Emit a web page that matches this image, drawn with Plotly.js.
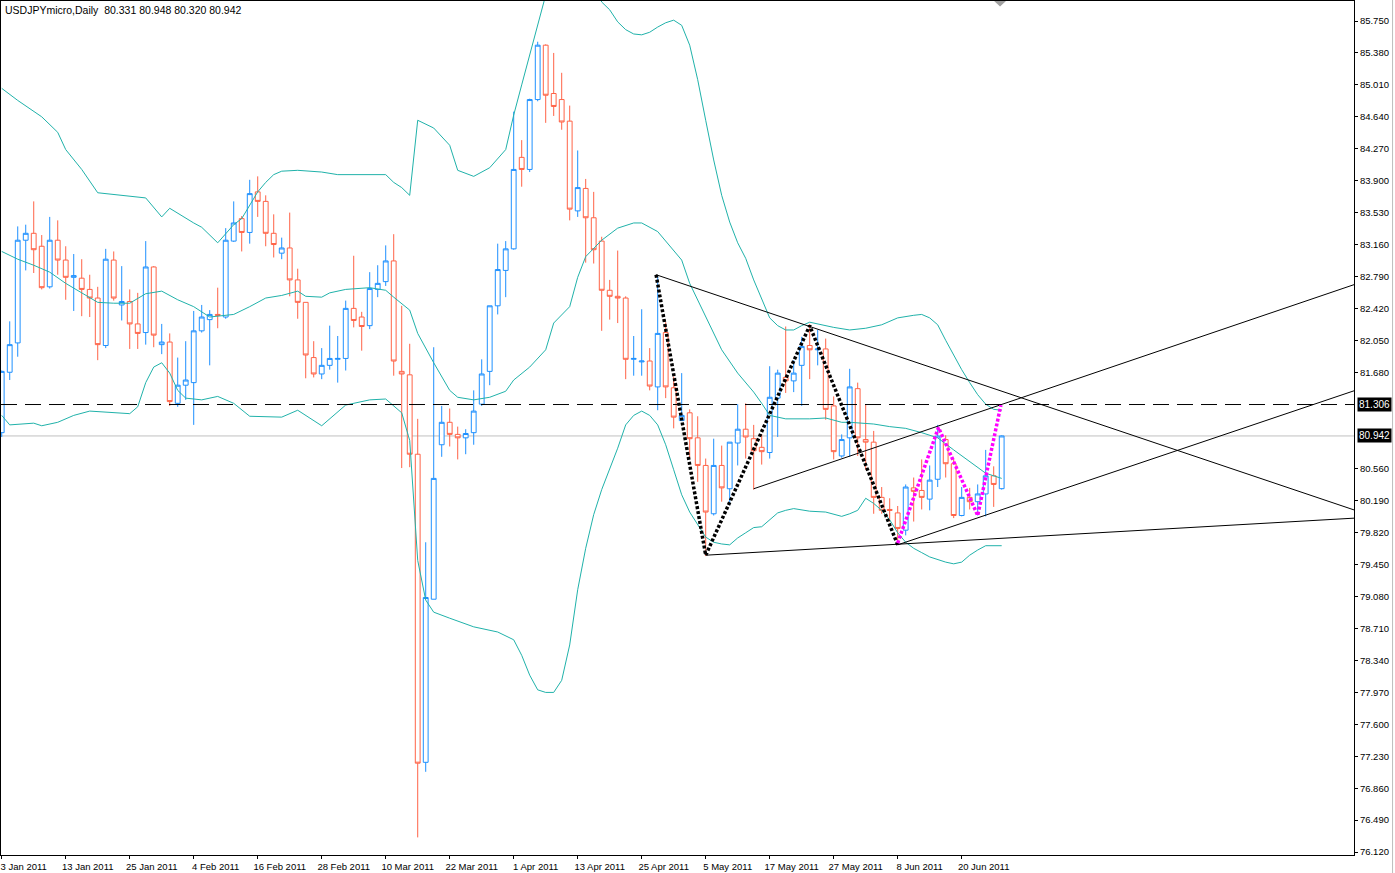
<!DOCTYPE html>
<html><head><meta charset="utf-8">
<script src="https://cdn.plot.ly/plotly-3.0.1.min.js"></script>
<style>html,body{margin:0;padding:0;background:#fff;overflow:hidden}#chart{width:1395px;height:873px}</style>
</head><body><div id="chart"></div>
<script>
// ---- data (daily USDJPY bars, bar index 0 = 3 Jan 2011) ----
const symbolName = 'USDJPYmicro';
const periodName = 'Daily';
const openP  = [80.98,81.68,82.02,83.21,83.29,83.14,82.67,83.21,82.98,82.78,82.77,82.64,82.54,81.99,82.98,82.46,82.50,82.24,82.14,82.90,
82.00,82.03,81.32,81.53,81.56,82.16,82.29,82.35,82.32,83.20,83.46,83.30,83.77,83.66,83.29,83.06,83.12,82.75,82.49,81.85,
81.66,81.76,81.83,81.84,82.42,82.32,82.22,82.64,82.73,82.97,81.69,81.65,80.73,77.16,79.05,80.84,81.10,80.96,80.92,80.98,
81.31,81.69,82.45,82.86,83.11,84.17,84.03,84.84,85.47,84.91,84.84,84.59,83.55,83.81,83.47,83.20,82.63,82.56,82.54,81.83,
81.80,81.81,81.51,82.14,81.50,81.12,81.21,80.92,80.60,80.04,80.60,80.33,80.86,81.02,80.91,80.81,80.75,81.38,81.62,81.58,
81.76,81.99,81.94,81.95,81.29,80.71,80.92,81.49,80.90,80.87,80.23,80.09,80.05,79.85,80.34,80.31,80.21,80.44,80.90,80.62,
80.02,80.23,80.18,80.27,80.48,80.331];
const highP  = [81.70,82.27,83.37,83.39,83.66,83.27,83.48,83.44,83.14,83.05,82.99,82.81,82.67,83.11,83.08,82.91,82.64,82.60,83.20,82.91,
82.24,82.13,81.85,82.04,82.39,82.46,82.40,82.66,83.35,83.66,83.49,83.91,83.95,83.73,83.51,83.24,83.53,82.88,82.49,82.04,
81.96,82.22,82.10,82.51,83.03,82.38,82.84,82.92,83.15,83.28,82.45,82.01,81.14,79.71,81.97,81.29,81.26,81.05,81.02,81.47,
81.83,82.45,83.17,83.20,84.70,84.37,84.85,85.51,85.48,85.38,85.15,84.77,84.25,83.92,83.77,83.25,82.75,83.09,82.56,82.10,
82.41,81.96,82.79,82.26,81.63,81.67,81.25,81.17,80.68,80.91,80.83,80.87,81.31,81.32,81.07,80.96,81.75,81.71,82.21,81.82,
82.09,82.24,82.17,82.07,81.40,80.96,81.72,81.56,81.31,81.00,80.35,80.22,80.13,80.38,80.46,80.67,80.60,81.07,80.95,80.68,
80.35,80.34,80.38,80.78,80.59,80.948];
const lowP   = [80.93,81.59,81.86,82.86,82.83,82.64,82.65,82.81,82.52,82.39,82.33,82.32,81.82,81.96,82.51,82.28,81.95,81.95,82.00,81.97,
81.89,81.29,81.28,81.36,81.07,82.14,81.76,82.19,82.30,83.19,83.08,83.17,83.48,83.14,83.01,82.99,82.56,82.30,81.61,81.62,
81.60,81.71,81.56,81.70,82.20,81.93,82.18,82.55,82.68,81.64,80.57,80.58,76.29,77.05,79.05,80.70,80.82,80.67,80.73,80.84,
81.29,81.53,82.35,82.55,83.10,83.83,84.00,84.82,84.57,84.65,84.49,83.44,83.48,82.95,82.94,82.16,82.29,82.25,81.60,81.64,
81.64,81.47,81.24,81.38,81.03,81.12,80.68,80.41,79.55,80.02,80.18,80.14,80.60,80.68,80.32,80.61,80.68,80.93,81.44,81.45,
81.29,81.60,81.76,81.13,80.67,80.69,80.70,80.71,80.55,80.04,80.04,79.95,79.68,79.79,79.95,80.09,80.08,80.35,80.46,79.99,
80.01,80.09,80.02,80.01,80.12,80.320];
const closeP = [81.69,82.00,83.21,83.29,83.10,82.66,83.21,82.98,82.78,82.80,82.64,82.54,82.00,82.99,82.54,82.50,82.24,82.13,82.90,82.11,
82.03,81.34,81.53,81.59,82.16,82.32,82.35,82.34,83.21,83.41,83.30,83.75,83.66,83.29,83.16,83.12,82.75,82.49,81.88,81.66,
81.76,81.84,81.84,82.42,82.28,82.21,82.65,82.71,82.97,81.81,81.66,80.73,77.15,79.07,80.45,81.10,80.96,80.92,80.97,81.23,
81.66,82.45,82.87,83.11,84.03,84.03,84.84,85.47,84.89,84.76,84.58,83.57,83.82,83.47,83.10,82.63,82.56,82.54,81.83,81.84,
81.81,81.52,82.13,81.51,81.16,81.18,80.91,80.60,80.06,80.60,80.34,80.87,81.02,80.93,80.77,80.76,81.39,81.67,81.58,81.67,
81.98,81.94,81.95,81.25,80.76,80.90,81.51,80.92,80.87,80.23,80.08,80.08,79.87,80.35,80.30,80.23,80.43,80.94,80.62,80.02,
80.23,80.18,80.27,80.48,80.38,80.942];

// Bollinger bands (bar index, price)
const upperIdx = [0,2,5,7,8,10,12,18,20,21,24,25,27,29,30,31,32,33,34,35,37,40,42,48,49,50,51,52,54,56,57,59,61,63,64,65,66,67,68,69,70,71,72,73,74,75,76,77,78,79,80,81,82,83,84,85,86,87,88,89,90,91,92,93,94,95,96,97,98,99,100,101,102,103,104,106,108,110,112,114,115,116,117,118,119,120,121,122,123,124,125];
const upperVal = [84.97,84.83,84.64,84.46,84.26,84.03,83.76,83.70,83.48,83.58,83.41,83.36,83.18,83.39,83.46,83.62,83.77,83.88,83.97,84.01,84.02,84.00,83.97,83.97,83.88,83.82,83.73,84.60,84.51,84.31,84.02,83.95,84.05,84.26,84.66,85.01,85.36,85.70,86.05,86.30,86.50,86.60,86.60,86.45,86.20,85.97,85.88,85.74,85.65,85.60,85.59,85.62,85.68,85.73,85.76,85.70,85.47,85.07,84.60,84.14,83.73,83.42,83.18,83.00,82.75,82.52,82.31,82.22,82.17,82.17,82.22,82.26,82.24,82.22,82.20,82.17,82.19,82.23,82.31,82.34,82.35,82.31,82.23,82.05,81.88,81.71,81.56,81.42,81.31,81.25,81.24];
const midIdx = [0,2,4,6,8,10,12,14,16,18,20,22,24,26,29,31,33,35,37,38,40,41,43,46,48,49,51,52,54,56,57,59,61,63,64,66,68,69,71,72,73,75,77,79,80,82,85,86,88,90,92,94,95,96,98,101,103,105,106,109,111,113,115,117,119,121,123,125];
const midVal = [83.08,82.99,82.92,82.84,82.71,82.60,82.49,82.48,82.48,82.59,82.62,82.52,82.44,82.32,82.35,82.44,82.54,82.57,82.62,82.56,82.55,82.60,82.64,82.66,82.63,82.55,82.40,82.13,81.79,81.47,81.39,81.36,81.39,81.46,81.59,81.74,81.94,82.25,82.44,82.78,83.02,83.21,83.35,83.41,83.41,83.31,82.98,82.71,82.32,81.94,81.67,81.45,81.32,81.18,81.14,81.14,81.15,81.10,81.10,81.08,81.05,81.03,80.98,80.92,80.78,80.64,80.51,80.45];
const lowIdx = [0,1,4,5,7,9,11,13,16,17,18,19,20,21,22,23,25,27,29,31,35,37,40,43,46,48,50,51,52,53,54,56,59,62,64,65,66,67,68,69,70,71,72,73,74,75,76,77,78,79,80,81,82,83,84,85,86,87,88,89,90,91,92,93,94,95,96,97,98,99,101,103,105,106,107,108,109,110,111,112,113,114,115,116,118,119,120,121,122,123,125];
const lowVal = [81.18,81.07,81.09,81.06,81.10,81.18,81.23,81.22,81.20,81.28,81.56,81.74,81.79,81.67,81.47,81.38,81.36,81.40,81.32,81.17,81.16,81.24,81.06,81.30,81.36,81.37,81.21,80.89,79.50,79.04,78.90,78.83,78.73,78.67,78.58,78.40,78.17,78.00,77.97,77.97,78.11,78.52,79.16,79.64,80.03,80.32,80.55,80.80,81.07,81.18,81.23,81.18,81.07,80.84,80.55,80.26,80.06,79.91,79.77,79.71,79.69,79.68,79.76,79.82,79.88,79.89,79.97,80.05,80.08,80.10,80.07,80.06,80.01,80.04,80.08,80.22,80.16,80.08,79.97,79.82,79.71,79.64,79.59,79.54,79.48,79.46,79.48,79.56,79.62,79.67,79.67];

// drawn objects
const hLineLevel = 81.306;
const bidLevel = 80.942;
const trendA = {x:[81.8,169.2], y:[82.81,80.08]};
const trendB = {x:[88.0,169.2], y:[79.56,79.99]};
const trendC = {x:[94.0,169.2], y:[80.33,82.70]};
const trendD = {x:[112.0,169.2], y:[79.68,81.47]};
const zigBlack = {x:[81.8,88.0,101.0,112.0], y:[82.81,79.56,82.22,79.68]};
const zigPink  = {x:[112.0,117.1,122.0,124.9], y:[79.70,81.04,80.02,81.30]};

// axes
const xTickIdx = [0,8,16,24,32,40,48,56,64,72,80,88,96,104,112,120];
const xTickText = ['3 Jan 2011','13 Jan 2011','25 Jan 2011','4 Feb 2011','16 Feb 2011','28 Feb 2011','10 Mar 2011','22 Mar 2011','1 Apr 2011','13 Apr 2011','25 Apr 2011','5 May 2011','17 May 2011','27 May 2011','8 Jun 2011','20 Jun 2011'];
const yTickVals = [85.75,85.38,85.01,84.64,84.27,83.90,83.53,83.16,82.79,82.42,82.05,81.68,80.56,80.19,79.82,79.45,79.08,78.71,78.34,77.97,77.60,77.23,76.86,76.49,76.12];

// ---- chart ----
const barX = openP.map((_, i) => i);
const n = openP.length - 1;
const FONT = 'Liberation Sans, Arial, sans-serif';
const bandColor = '#20B2AA';

const traces = [
  {type:'candlestick', x:barX, open:openP, high:highP, low:lowP, close:closeP,
   increasing:{line:{color:'#1E90FF', width:1}, fillcolor:'#FFFFFF'},
   decreasing:{line:{color:'#FF6347', width:1}, fillcolor:'#FFFFFF'},
   whiskerwidth:0, hoverinfo:'skip', showlegend:false},
  {type:'scatter', mode:'lines', x:upperIdx, y:upperVal, line:{color:bandColor, width:1}, hoverinfo:'skip', showlegend:false},
  {type:'scatter', mode:'lines', x:midIdx, y:midVal, line:{color:bandColor, width:1}, hoverinfo:'skip', showlegend:false},
  {type:'scatter', mode:'lines', x:lowIdx, y:lowVal, line:{color:bandColor, width:1}, hoverinfo:'skip', showlegend:false},
];
[trendA, trendB, trendC, trendD].forEach(t => traces.push({type:'scatter', mode:'lines', x:t.x, y:t.y,
  line:{color:'#000000', width:1}, hoverinfo:'skip', showlegend:false}));
traces.push({type:'scatter', mode:'lines', x:zigBlack.x, y:zigBlack.y, line:{color:'#000000', width:3.5, dash:'3px,2px'}, hoverinfo:'skip', showlegend:false});
traces.push({type:'scatter', mode:'lines', x:zigPink.x, y:zigPink.y, line:{color:'#FF00FF', width:3.5, dash:'3px,2px'}, hoverinfo:'skip', showlegend:false});

const headerText = symbolName + ',' + periodName + '\u00a0\u00a0' +
  [openP[n], highP[n], lowP[n], closeP[n]].map(v => v.toFixed(3)).join(' ');

const layout = {
  width:1395, height:873,
  margin:{l:1, r:41, t:1, b:18, pad:0},
  paper_bgcolor:'#FFFFFF', plot_bgcolor:'#FFFFFF',
  boxgap:0.4, boxgroupgap:0,
  showlegend:false,
  font:{family:FONT, size:10, color:'#000000'},
  xaxis:{range:[-0.09, 169.04], tickmode:'array', tickvals:xTickIdx, ticktext:xTickText,
    ticks:'outside', ticklen:3, tickcolor:'#000000', showline:true, mirror:true, linecolor:'#000000', linewidth:1,
    showgrid:false, zeroline:false, tickfont:{family:FONT, size:9.5, color:'#000000'},
    ticklabelshift:22, rangeslider:{visible:false}, fixedrange:true},
  yaxis:{range:[76.086, 85.982], side:'right', tickmode:'array', tickvals:yTickVals,
    ticktext:yTickVals.map(v => v.toFixed(3)),
    ticks:'outside', ticklen:3, tickcolor:'#000000', showline:true, mirror:true, linecolor:'#000000', linewidth:1,
    showgrid:false, zeroline:false, tickfont:{family:FONT, size:9.5, color:'#000000'}, fixedrange:true},
  shapes:[
    {type:'line', xref:'paper', yref:'y', x0:0, x1:1, y0:bidLevel, y1:bidLevel, line:{color:'#C0C0C0', width:1}, layer:'below'},
    {type:'line', xref:'paper', yref:'y', x0:0, x1:1, y0:hLineLevel, y1:hLineLevel, line:{color:'#000000', width:1, dash:'16px,8px'}},
    {type:'line', xref:'paper', yref:'paper', x0:1.0285, x1:1.0285, y0:-0.03, y1:1.01, line:{color:'#BDBDBD', width:1}},
    {type:'path', xref:'paper', yref:'paper', path:'M 0.7340 1 L 0.7428 1 L 0.7384 0.9935 Z', fillcolor:'#A0A0A0', line:{width:0}}
  ],
  annotations:[
    {xref:'paper', yref:'paper', x:0, y:1, xanchor:'left', yanchor:'top', xshift:2, yshift:-1, showarrow:false,
     text:headerText, font:{family:FONT, size:10.5, color:'#000000'}},
    {xref:'paper', yref:'y', x:1, y:hLineLevel, xanchor:'left', yanchor:'middle', xshift:3, showarrow:false,
     text:hLineLevel.toFixed(3), bgcolor:'#000000', borderpad:1, font:{family:FONT, size:10, color:'#FFFFFF'}},
    {xref:'paper', yref:'y', x:1, y:bidLevel, xanchor:'left', yanchor:'middle', xshift:3, showarrow:false,
     text:bidLevel.toFixed(3), bgcolor:'#000000', borderpad:1, font:{family:FONT, size:10, color:'#FFFFFF'}}
  ]
};

Plotly.newPlot('chart', traces, layout, {staticPlot:true, displayModeBar:false});
</script></body></html>
